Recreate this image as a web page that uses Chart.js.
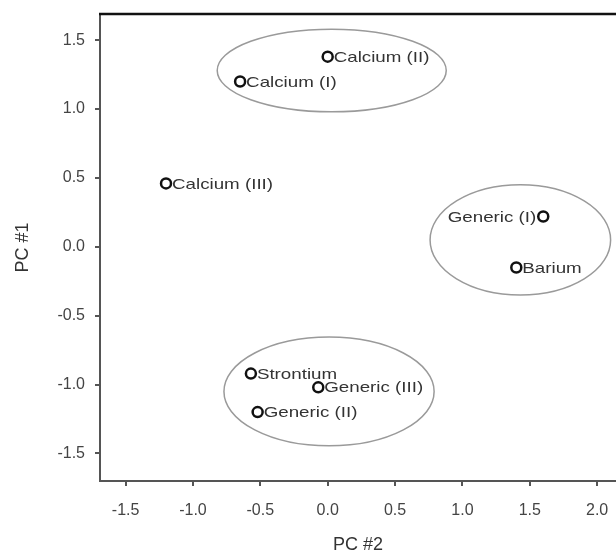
<!DOCTYPE html>
<html>
<head>
<meta charset="utf-8">
<script src="https://cdn.jsdelivr.net/npm/chart.js@4"></script>
<style>
  html, body { margin: 0; padding: 0; background: #fff; }
  #wrap { width: 616px; height: 556px; position: relative; }
</style>
</head>
<body>
<div id="wrap"><canvas id="pcaChart"></canvas></div>
<script>
// sample names and their principal component scores
var sampleNames = ['Calcium (II)', 'Calcium (I)', 'Calcium (III)', 'Generic (I)', 'Barium', 'Strontium', 'Generic (III)', 'Generic (II)'];
var pc2Values = [0.00, -0.65, -1.20, 1.60, 1.40, -0.57, -0.07, -0.52];
var pc1Values = [1.38, 1.20, 0.46, 0.22, -0.15, -0.92, -1.02, -1.20];
var labelSide = ['right', 'right', 'right', 'left', 'right', 'right', 'right', 'right'];

// grouping ellipses (in data units)
var groupCenterX = [0.03, 1.43, 0.01];
var groupCenterY = [1.28, 0.05, -1.05];
var groupRadiusX = [0.85, 0.67, 0.78];
var groupRadiusY = [0.30, 0.40, 0.395];

var xTickValues = [-1.5, -1.0, -0.5, 0.0, 0.5, 1.0, 1.5, 2.0];
var yTickValues = [-1.5, -1.0, -0.5, 0.0, 0.5, 1.0, 1.5];

var points = pc2Values.map(function (x, i) {
    return { x: x, y: pc1Values[i] };
});

// draws the group ellipses, the point labels and the top frame line
var decorPlugin = {
    id: 'decor',
    beforeDatasetsDraw: function (chart) {
        var ctx = chart.ctx;
        var xs = chart.scales.x, ys = chart.scales.y;
        ctx.save();
        ctx.strokeStyle = '#9a9a9a';
        ctx.lineWidth = 1.5;
        for (var i = 0; i < groupCenterX.length; i++) {
            var cx = xs.getPixelForValue(groupCenterX[i]);
            var cy = ys.getPixelForValue(groupCenterY[i]);
            var rx = Math.abs(xs.getPixelForValue(groupCenterX[i] + groupRadiusX[i]) - cx);
            var ry = Math.abs(ys.getPixelForValue(groupCenterY[i] + groupRadiusY[i]) - cy);
            ctx.beginPath();
            ctx.ellipse(cx, cy, rx, ry, 0, 0, Math.PI * 2);
            ctx.stroke();
        }
        ctx.restore();
    },
    afterDatasetsDraw: function (chart) {
        var ctx = chart.ctx;
        var xs = chart.scales.x, ys = chart.scales.y;
        var area = chart.chartArea;
        ctx.save();
        ctx.font = '15px "Liberation Sans", Arial, sans-serif';
        ctx.fillStyle = '#333';
        ctx.textBaseline = 'middle';
        for (var i = 0; i < sampleNames.length; i++) {
            var px = xs.getPixelForValue(pc2Values[i]);
            var py = ys.getPixelForValue(pc1Values[i]);
            ctx.save();
            if (labelSide[i] === 'left') {
                ctx.translate(px - 7, py + 1);
                ctx.scale(1.25, 1);
                ctx.textAlign = 'right';
            } else {
                ctx.translate(px + 6, py + 1);
                ctx.scale(1.25, 1);
                ctx.textAlign = 'left';
            }
            ctx.fillText(sampleNames[i], 0, 0);
            ctx.restore();
        }
        // top frame line
        ctx.strokeStyle = '#111';
        ctx.lineWidth = 2.5;
        ctx.beginPath();
        ctx.moveTo(area.left - 1, area.top);
        ctx.lineTo(chart.width, area.top);
        ctx.stroke();
        ctx.restore();
    }
};

var ctxPca = document.getElementById('pcaChart').getContext('2d');
var pcaChart = new Chart(ctxPca, {
    type: 'scatter',
    data: {
        datasets: [{
            label: 'Samples',
            data: points,
            pointRadius: 5,
            pointHoverRadius: 5,
            pointBorderWidth: 2.5,
            borderColor: '#111',
            backgroundColor: '#fff'
        }]
    },
    options: {
        responsive: true,
        maintainAspectRatio: false,
        animation: false,
        layout: { autoPadding: false, padding: { top: 14, right: 0, left: 0, bottom: 0 } },
        plugins: {
            legend: { display: false },
            tooltip: { enabled: false }
        },
        scales: {
            x: {
                type: 'linear',
                min: -1.69,
                max: 2.14,
                afterBuildTicks: function (scale) {
                    scale.ticks = xTickValues.map(function (v) { return { value: v }; });
                },
                afterFit: function (scale) {
                    scale.height = 75;
                    scale.paddingLeft = 0;
                    scale.paddingRight = 0;
                },
                grid: { drawOnChartArea: false, drawTicks: true, tickLength: 5, color: '#555', lineWidth: 2 },
                border: { display: true, color: '#555', width: 2 },
                ticks: {
                    padding: 15,
                    color: '#444',
                    font: { family: '"Liberation Sans", Arial, sans-serif', size: 16 },
                    callback: function (v) { return v.toFixed(1); }
                },
                title: {
                    display: true,
                    text: 'PC #2',
                    color: '#333',
                    font: { family: '"Liberation Sans", Arial, sans-serif', size: 18 },
                    padding: { top: 4, bottom: 0 }
                }
            },
            y: {
                type: 'linear',
                min: -1.7,
                max: 1.69,
                afterBuildTicks: function (scale) {
                    scale.ticks = yTickValues.map(function (v) { return { value: v }; });
                },
                afterFit: function (scale) {
                    scale.width = 100;
                    scale.paddingTop = 0;
                    scale.paddingBottom = 0;
                },
                grid: { drawOnChartArea: false, drawTicks: true, tickLength: 5, color: '#555', lineWidth: 2 },
                border: { display: true, color: '#555', width: 2 },
                ticks: {
                    padding: 10,
                    color: '#444',
                    font: { family: '"Liberation Sans", Arial, sans-serif', size: 16 },
                    callback: function (v) { return v.toFixed(1); }
                },
                title: {
                    display: true,
                    text: 'PC #1',
                    color: '#333',
                    font: { family: '"Liberation Sans", Arial, sans-serif', size: 18 },
                    padding: { top: 12, bottom: 4 }
                }
            }
        }
    },
    plugins: [decorPlugin]
});
</script>
</body>
</html>
